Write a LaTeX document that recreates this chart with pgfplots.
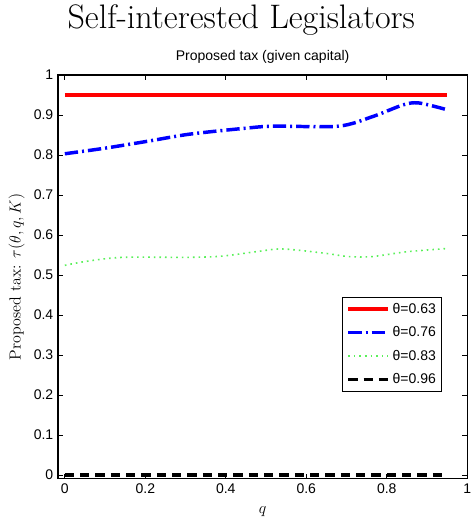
\documentclass[border=0pt]{standalone}
\usepackage{fontspec}
\usepackage{pgfplots}
\pgfplotsset{compat=1.18}
\newfontfamily\helv{Liberation Sans}

\begin{document}
\begin{tikzpicture}
\begin{axis}[
  name=main,
  scale only axis,
  width=307pt, height=303pt,
  xmin=-0.017, xmax=1,
  ymin=-0.01, ymax=1,
  xtick={0,0.2,0.4,0.6,0.8,1},
  ytick={0,0.1,0.2,0.3,0.4,0.5,0.6,0.7,0.8,0.9,1},
  tick align=inside,
  major tick length=4pt,
  axis line style={line width=0.9pt},
  tick style={black, line width=0.5pt},
  /pgf/number format/assume math mode=true,
  ticklabel style={font=\helv\fontsize{10.5}{12}\selectfont},
  xlabel={$q$},
  xlabel style={font=\fontsize{12}{14}\selectfont, at={([yshift=-24.5pt]rel axis cs:0.5,0)}, anchor=center},
  ylabel={Proposed tax: $\tau(\theta,q,K)$},
  ylabel style={font=\fontsize{12}{14}\selectfont, at={([xshift=-31pt]rel axis cs:0,0.5)}, anchor=center},
  legend style={at={(0.939,0.215)}, anchor=south east,
    font=\helv\fontsize{10.5}{12}\selectfont, draw=black, line width=0.6pt,
    inner sep=2.5pt, row sep=4.5pt},
  legend cell align=left,
  legend image code/.code={\draw[#1] (0cm,0cm) -- (1.05cm,0cm);},
]
\addplot[red, line width=3pt] coordinates {(0,0.95) (0.95,0.95)};
\addlegendentry{θ=0.63}
\addplot[blue, line width=2.6pt, dash pattern=on 10pt off 3pt on 1.5pt off 3pt, smooth] coordinates {
 (0,0.803) (0.10,0.817) (0.21,0.835) (0.31,0.852) (0.45,0.867) (0.52,0.872)
 (0.68,0.872) (0.765,0.896) (0.84,0.925) (0.88,0.93) (0.95,0.913)};
\addlegendentry{θ=0.76}
\addplot[color={rgb,255:red,90;green,240;blue,90}, line width=1.2pt, dash pattern=on 1.2pt off 3pt, smooth] coordinates {
 (0,0.524) (0.06,0.535) (0.145,0.544) (0.31,0.544) (0.39,0.547) (0.475,0.558)
 (0.54,0.565) (0.64,0.555) (0.705,0.546) (0.765,0.546) (0.85,0.558) (0.95,0.566)};
\addlegendentry{θ=0.83}
\addplot[black, line width=2.6pt, dash pattern=on 7pt off 4.5pt] coordinates {(0,0) (0.95,0)};
\addlegendentry{θ=0.96}
\end{axis}
% figure title and axes title
\node[font=\fontsize{25.5}{30}\selectfont, anchor=base] at ([xshift=137.5pt, yshift=35pt]main.north west) {Self-interested Legislators};
\node[font=\helv\fontsize{10.5}{12}\selectfont, anchor=center] at ([xshift=153.5pt, yshift=13.5pt]main.north west) {Proposed tax (given capital)};
\path[use as bounding box] ([xshift=-43.5pt, yshift=-31.5pt]main.south west) rectangle ([xshift=1.5pt, yshift=56.25pt]main.north east);
\end{tikzpicture}
\end{document}
